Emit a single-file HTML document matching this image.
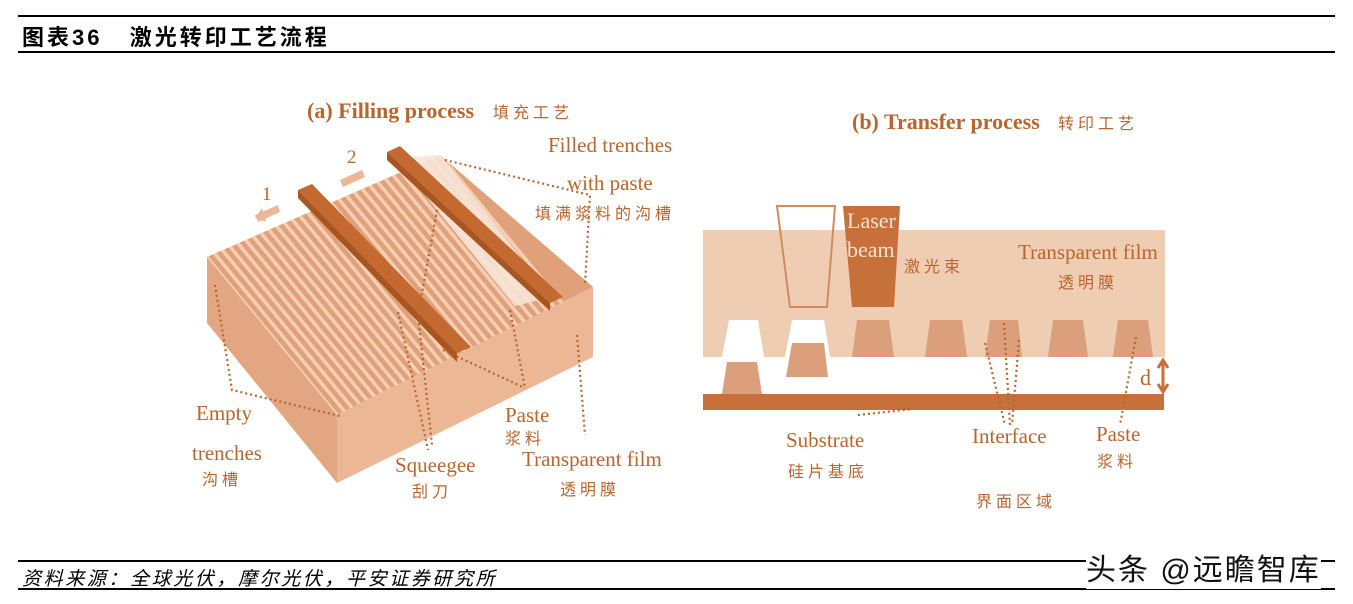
<!DOCTYPE html>
<html><head><meta charset="utf-8"><style>
body{margin:0;width:1353px;height:604px;background:#fff;overflow:hidden;position:relative;font-family:"Liberation Sans","Noto Sans CJK SC",sans-serif}
.hl{position:absolute;left:18px;width:1317px;background:#000}
.t{font-family:"Liberation Serif","Noto Sans CJK SC",serif;fill:#b8652e}
.c{font-family:"Noto Sans CJK SC",sans-serif;fill:#b8652e;letter-spacing:4px}
</style></head><body>
<div class="hl" style="top:15px;height:2px"></div>
<div style="position:absolute;left:22px;top:20px;font-size:22px;font-weight:bold;color:#000;letter-spacing:3px">图表36&nbsp;&nbsp;&nbsp;激光转印工艺流程</div>
<div class="hl" style="top:51px;height:2px"></div>
<div class="hl" style="top:560px;height:2px"></div>
<div style="position:absolute;left:22px;top:564px;font-size:19px;font-style:italic;color:#000;letter-spacing:2.6px">资料来源：全球光伏，摩尔光伏，平安证券研究所</div>
<div class="hl" style="top:588px;height:2px"></div>
<div style="position:absolute;left:1086px;top:545px;font-size:30px;color:#111;background:#fff;letter-spacing:2px">头条 @远瞻智库</div>
<svg width="1353" height="604" style="position:absolute;left:0;top:0">
<defs><clipPath id="tf"><polygon points="207,257 440,155 593,287 337,415"/></clipPath></defs>
<polygon points="207,257 337,415 337,483 207,323" fill="#e3a682"/>
<polygon points="337,415 593,287 593,357 337,483" fill="#ecb795"/>
<polygon points="207,257 440,155 593,287 337,415" fill="#e0a07a"/>
<g id="st" clip-path="url(#tf)" stroke="#f3cfb5" stroke-width="3.5"></g>
<polygon points="395,158 440,155 552,297 515,306" fill="#f7e4d6" opacity="0.9"/>
<polygon points="298,190 312,184 471,347 457,353" fill="#c4692f"/>
<polygon points="298,190 457,353 457,362 298,198" fill="#a8551f"/>
<polygon points="387,152 400,146 563,297 550,303" fill="#c4692f"/>
<polygon points="387,152 550,303 550,311 387,160" fill="#a8551f"/>
<polygon points="255,215 278,205 280,212 258,222" fill="#ecb797"/><polygon points="255,218 262,208 266,222" fill="#ecb797"/>
<polygon points="340,180 362,170 365,177 343,187" fill="#ecb797"/>
<g fill="none" stroke="#b8652e" stroke-width="2.2" stroke-dasharray="2,3">
<polyline points="445,160 590,195 585,285"/>
<polyline points="215,285 232,390 340,416"/>
<polyline points="398,312 428,450"/><polyline points="437,210 418,315 432,445"/>
<polyline points="510,310 525,388"/><polyline points="443,350 525,388"/>
<polyline points="577,335 585,435"/>
</g>
<text x="307" y="118" class="t" font-size="22" font-weight="bold">(a) Filling process</text>
<text x="493" y="118" class="c" font-size="16">填充工艺</text>
<text x="548" y="152" class="t" font-size="21">Filled trenches</text>
<text x="567" y="190" class="t" font-size="21">with paste</text>
<text x="535" y="219" class="c" font-size="16">填满浆料的沟槽</text>
<text x="262" y="200" class="t" font-size="19">1</text><text x="347" y="163" class="t" font-size="19">2</text>
<text x="196" y="420" class="t" font-size="21">Empty</text>
<text x="192" y="460" class="t" font-size="21">trenches</text>
<text x="202" y="485" class="c" font-size="16">沟槽</text>
<text x="395" y="472" class="t" font-size="21">Squeegee</text>
<text x="412" y="497" class="c" font-size="16">刮刀</text>
<text x="505" y="422" class="t" font-size="21">Paste</text>
<text x="505" y="444" class="c" font-size="16">浆料</text>
<text x="522" y="466" class="t" font-size="21">Transparent film</text>
<text x="560" y="495" class="c" font-size="16">透明膜</text>

<rect x="703" y="230" width="462" height="127" fill="#efcdb3"/>
<polygon points="777,206 835,206 827,307 790,307" fill="none" stroke="#d08c5e" stroke-width="2"/>
<polygon points="843,206 900,206 894,307 852,307" fill="#c8703a"/>
<g fill="#dba07b">
<polygon points="857,320 889,320 894,357 852,357"/>
<polygon points="930,320 962,320 967,357 925,357"/>
<polygon points="990,320 1018,320 1022,357 985,357"/>
<polygon points="1053,320 1083,320 1088,357 1048,357"/>
<polygon points="1118,320 1148,320 1153,357 1113,357"/>
<polygon points="727,362 757,362 762,394 722,394"/>
</g>
<polygon points="729,320 758,320 764,357 722,357" fill="#fff"/>
<polygon points="792,320 824,320 830,357 785,357" fill="#fff"/>
<polygon points="792,343 824,343 828,377 786,377" fill="#dba07b"/>
<rect x="703" y="394" width="461" height="16" fill="#c8703a"/>
<path d="M1163,362 V390 M1158,368 L1163,360 L1168,368 M1158,384 L1163,392 L1168,384" stroke="#c8703a" stroke-width="3" fill="none"/>
<g fill="none" stroke="#b8652e" stroke-width="2.2" stroke-dasharray="2,3">
<polyline points="858,415 913,409"/>
<polyline points="985,343 1005,425"/><polyline points="1004,323 1010,425"/><polyline points="1019,340 1012,425"/>
<polyline points="1136,337 1120,425"/>
</g>
<text x="852" y="129" class="t" font-size="22" font-weight="bold">(b) Transfer process</text>
<text x="1058" y="129" class="c" font-size="16">转印工艺</text>
<text x="847" y="228" font-family="Liberation Serif" font-size="22" fill="#f7e3d3">Laser</text>
<text x="847" y="257" font-family="Liberation Serif" font-size="22" fill="#f7e3d3">beam</text>
<text x="904" y="272" class="c" font-size="16">激光束</text>
<text x="1018" y="259" class="t" font-size="21">Transparent film</text>
<text x="1058" y="288" class="c" font-size="16">透明膜</text>
<text x="786" y="447" class="t" font-size="21">Substrate</text>
<text x="788" y="477" class="c" font-size="16">硅片基底</text>
<text x="972" y="443" class="t" font-size="21">Interface</text>
<text x="1096" y="441" class="t" font-size="21">Paste</text>
<text x="1097" y="467" class="c" font-size="16">浆料</text>
<text x="976" y="507" class="c" font-size="16">界面区域</text>
<text x="1140" y="385" class="t" font-size="22">d</text>
</svg>
<script>
var g=document.getElementById('st'),s='';
for(var i=0;i<=30;i++){var t=i/30,x=207+t*233,y=257-t*102;s+='<line x1="'+(x-10)+'" y1="'+(y-12)+'" x2="'+(x+260)+'" y2="'+(y+316)+'"/>';}
g.innerHTML=s;
</script>
</body></html>
